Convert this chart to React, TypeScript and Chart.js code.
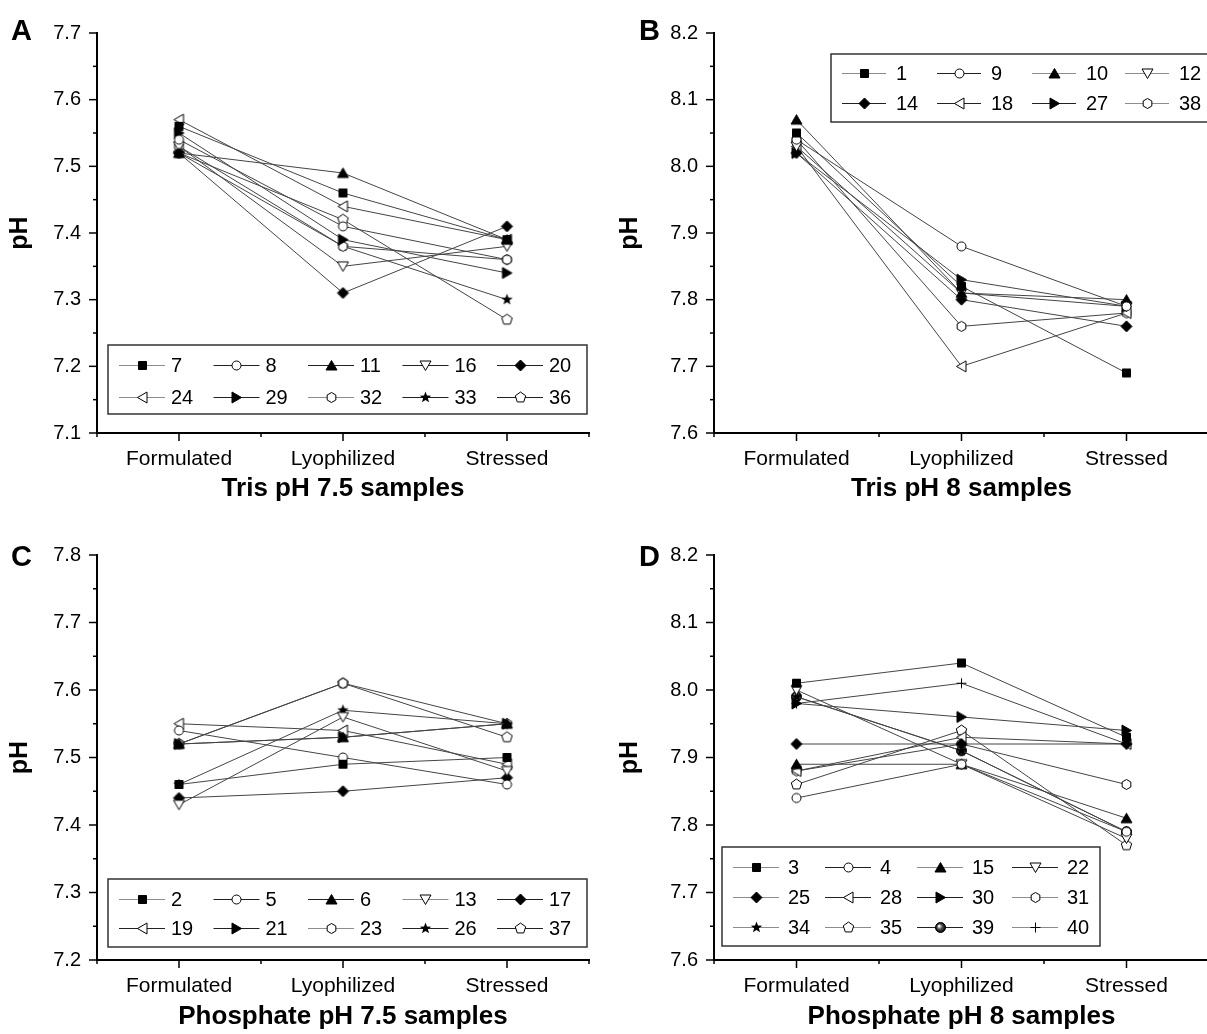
import React, { useEffect, useRef } from 'react';
import { Chart, registerables } from 'chart.js';

Chart.register(...registerables);
const FONT = "'Liberation Sans', Arial, Helvetica, sans-serif";
Chart.defaults.font.family = FONT;
Chart.defaults.color = '#000';

const CATEGORIES = ['Formulated', 'Lyophilized', 'Stressed'];

// Panel A — Tris pH 7.5
const A_SAMPLES = ['7', '8', '11', '16', '20', '24', '29', '32', '33', '36'];
const A_MARKERS = ['square', 'circle', 'triangle', 'tridown', 'diamond', 'trileft', 'triright', 'hexagon', 'star', 'pentagon'];
const A_TONES = ['g', 'k', 'k', 'k', 'k', 'g', 'k', 'g', 'k', 'k'];
const A_VALUES = [
  [7.56, 7.46, 7.39],
  [7.54, 7.41, 7.36],
  [7.52, 7.49, 7.39],
  [7.53, 7.35, 7.38],
  [7.52, 7.31, 7.41],
  [7.57, 7.44, 7.39],
  [7.55, 7.39, 7.34],
  [7.53, 7.38, 7.36],
  [7.52, 7.38, 7.30],
  [7.52, 7.42, 7.27],
];

// Panel B — Tris pH 8
const B_SAMPLES = ['1', '9', '10', '12', '14', '18', '27', '38'];
const B_MARKERS = ['square', 'circle', 'triangle', 'tridown', 'diamond', 'trileft', 'triright', 'hexagon'];
const B_TONES = ['g', 'k', 'g', 'g', 'k', 'k', 'k', 'g'];
const B_VALUES = [
  [8.05, 7.82, 7.69],
  [8.04, 7.88, 7.79],
  [8.07, 7.81, 7.80],
  [8.03, 7.81, 7.79],
  [8.02, 7.80, 7.76],
  [8.03, 7.70, 7.78],
  [8.02, 7.83, 7.79],
  [8.04, 7.76, 7.78],
];

// Panel C — Phosphate pH 7.5
const C_SAMPLES = ['2', '5', '6', '13', '17', '19', '21', '23', '26', '37'];
const C_MARKERS = ['square', 'circle', 'triangle', 'tridown', 'diamond', 'trileft', 'triright', 'hexagon', 'star', 'pentagon'];
const C_TONES = ['g', 'k', 'k', 'g', 'k', 'k', 'k', 'g', 'k', 'k'];
const C_VALUES = [
  [7.46, 7.49, 7.50],
  [7.54, 7.50, 7.46],
  [7.52, 7.53, 7.55],
  [7.43, 7.56, 7.48],
  [7.44, 7.45, 7.47],
  [7.55, 7.54, 7.49],
  [7.52, 7.53, 7.55],
  [7.52, 7.61, 7.55],
  [7.46, 7.57, 7.55],
  [7.52, 7.61, 7.53],
];

// Panel D — Phosphate pH 8
const D_SAMPLES = ['3', '4', '15', '22', '25', '28', '30', '31', '34', '35', '39', '40'];
const D_MARKERS = ['square', 'circle', 'triangle', 'tridown', 'diamond', 'trileft', 'triright', 'hexagon', 'star', 'pentagon', 'ball', 'plus'];
const D_TONES = ['g', 'k', 'g', 'k', 'g', 'k', 'k', 'g', 'g', 'g', 'k', 'g'];
const D_VALUES = [
  [8.01, 8.04, 7.93],
  [7.84, 7.89, 7.79],
  [7.89, 7.89, 7.81],
  [8.00, 7.89, 7.78],
  [7.92, 7.92, 7.92],
  [7.88, 7.93, 7.92],
  [7.98, 7.96, 7.94],
  [7.88, 7.92, 7.86],
  [7.99, 7.91, 7.79],
  [7.86, 7.94, 7.77],
  [7.99, 7.91, 7.79],
  [7.98, 8.01, 7.92],
];

const markerCache: Record<string, HTMLCanvasElement> = {};
function makeMarker(kind: string): HTMLCanvasElement {
  if (markerCache[kind]) return markerCache[kind];
  const size = 15;
  const c = document.createElement('canvas');
  c.width = size;
  c.height = size;
  const g = c.getContext('2d') as CanvasRenderingContext2D;
  const cx = size / 2;
  const cy = size / 2;
  g.lineWidth = 1;
  g.strokeStyle = '#000';
  const poly = (pts: number[][]) => {
    g.beginPath();
    pts.forEach(([x, y], i) => (i ? g.lineTo(x, y) : g.moveTo(x, y)));
    g.closePath();
  };
  const ngon = (n: number, r: number, start: number) => {
    const pts: number[][] = [];
    for (let k = 0; k < n; k++) {
      const a = start + (k * 2 * Math.PI) / n;
      pts.push([cx + r * Math.cos(a), cy + r * Math.sin(a)]);
    }
    poly(pts);
  };
  const solid = () => { g.fillStyle = '#000'; g.fill(); g.stroke(); };
  const open = () => { g.fillStyle = '#fff'; g.fill(); g.stroke(); };
  switch (kind) {
    case 'square':
      poly([[cx - 4, cy - 4], [cx + 4, cy - 4], [cx + 4, cy + 4], [cx - 4, cy + 4]]);
      solid();
      break;
    case 'circle':
      g.beginPath();
      g.arc(cx, cy, 4.5, 0, Math.PI * 2);
      open();
      break;
    case 'triangle':
      poly([[cx, cy - 5], [cx + 5.5, cy + 4.5], [cx - 5.5, cy + 4.5]]);
      solid();
      break;
    case 'tridown':
      poly([[cx - 5.5, cy - 4.5], [cx + 5.5, cy - 4.5], [cx, cy + 5]]);
      open();
      break;
    case 'diamond':
      poly([[cx, cy - 5.5], [cx + 5.5, cy], [cx, cy + 5.5], [cx - 5.5, cy]]);
      solid();
      break;
    case 'trileft':
      poly([[cx - 5, cy], [cx + 4.5, cy - 5.5], [cx + 4.5, cy + 5.5]]);
      open();
      break;
    case 'triright':
      poly([[cx + 5, cy], [cx - 4.5, cy - 5.5], [cx - 4.5, cy + 5.5]]);
      solid();
      break;
    case 'hexagon':
      ngon(6, 5, -Math.PI / 2);
      open();
      break;
    case 'pentagon':
      ngon(5, 5.5, -Math.PI / 2);
      open();
      break;
    case 'star': {
      const pts: number[][] = [];
      for (let k = 0; k < 10; k++) {
        const r = k % 2 === 0 ? 6 : 2.5;
        const a = -Math.PI / 2 + (k * Math.PI) / 5;
        pts.push([cx + r * Math.cos(a), cy + r * Math.sin(a)]);
      }
      poly(pts);
      g.fillStyle = '#000';
      g.fill();
      break;
    }
    case 'ball': {
      const grad = g.createRadialGradient(cx - 1.5, cy - 1.5, 0.5, cx, cy, 5);
      grad.addColorStop(0, '#fff');
      grad.addColorStop(0.45, '#555');
      grad.addColorStop(1, '#000');
      g.beginPath();
      g.arc(cx, cy, 5, 0, Math.PI * 2);
      g.fillStyle = grad;
      g.fill();
      g.stroke();
      break;
    }
    case 'plus':
      g.beginPath();
      g.moveTo(cx - 5, cy);
      g.lineTo(cx + 5, cy);
      g.moveTo(cx, cy - 5);
      g.lineTo(cx, cy + 5);
      g.stroke();
      break;
  }
  markerCache[kind] = c;
  return c;
}

const TONE: Record<string, string> = { g: '#8c8c8c', k: '#222' };

interface LegendCfg { x: number; y: number; w: number; h: number; rows: number[]; cols: number[]; lineLen: number; textOff: number }
interface PanelCfg {
  letter: string;
  left: number; top: number; w: number; h: number;
  area: { left: number; top: number; right: number; bottom: number };
  yMin: number; yMax: number;
  title: string;
  titleBottom: number;
  yTitlePad: number;
  letterX: number; letterY: number;
  samples: string[]; markers: string[]; tones: string[]; values: number[][];
  legend: LegendCfg;
}

const PANELS: PanelCfg[] = [
  {
    letter: 'A', left: 0, top: 0, w: 603, h: 517,
    area: { left: 97, top: 33, right: 597, bottom: 433 },
    yMin: 7.1, yMax: 7.7, title: 'Tris pH 7.5 samples', titleBottom: 13, yTitlePad: 5,
    letterX: 11, letterY: 40,
    samples: A_SAMPLES, markers: A_MARKERS, tones: A_TONES, values: A_VALUES,
    legend: { x: 108, y: 345, w: 479, h: 69, rows: [365, 397], cols: [119, 213.5, 308, 402.5, 497], lineLen: 46, textOff: 52 },
  },
  {
    letter: 'B', left: 603, top: 0, w: 620, h: 517,
    area: { left: 111, top: 33, right: 611, bottom: 433 },
    yMin: 7.6, yMax: 8.2, title: 'Tris pH 8 samples', titleBottom: 13, yTitlePad: 12,
    letterX: 36, letterY: 40,
    samples: B_SAMPLES, markers: B_MARKERS, tones: B_TONES, values: B_VALUES,
    legend: { x: 228, y: 54, w: 420, h: 68, rows: [73, 103], cols: [239, 334, 429, 522], lineLen: 44, textOff: 54 },
  },
  {
    letter: 'C', left: 0, top: 517, w: 603, h: 517,
    area: { left: 97, top: 38, right: 597, bottom: 443 },
    yMin: 7.2, yMax: 7.8, title: 'Phosphate pH 7.5 samples', titleBottom: 2, yTitlePad: 5,
    letterX: 11, letterY: 49,
    samples: C_SAMPLES, markers: C_MARKERS, tones: C_TONES, values: C_VALUES,
    legend: { x: 108, y: 362, w: 479, h: 68, rows: [382, 411], cols: [119, 213.5, 308, 402.5, 497], lineLen: 46, textOff: 52 },
  },
  {
    letter: 'D', left: 603, top: 517, w: 620, h: 517,
    area: { left: 111, top: 38, right: 611, bottom: 443 },
    yMin: 7.6, yMax: 8.2, title: 'Phosphate pH 8 samples', titleBottom: 2, yTitlePad: 12,
    letterX: 36, letterY: 49,
    samples: D_SAMPLES, markers: D_MARKERS, tones: D_TONES, values: D_VALUES,
    legend: { x: 119, y: 330, w: 378, h: 99, rows: [350, 380, 410], cols: [130, 222, 314, 409], lineLen: 46, textOff: 55 },
  },
];

function decorPlugin(p: PanelCfg) {
  return {
    id: 'decor' + p.letter,
    afterDraw(chart: any) {
      const ctx: CanvasRenderingContext2D = chart.ctx;
      const xs = chart.scales.x;
      const ys = chart.scales.y;
      ctx.save();
      ctx.strokeStyle = '#000';
      ctx.lineWidth = 1.5;
      ys.ticks.forEach((t: any) => {
        const n = Math.round(t.value * 100);
        const len = n % 10 === 0 ? 8 : 4;
        const y = ys.getPixelForValue(t.value);
        ctx.beginPath();
        ctx.moveTo(ys.right - len, y);
        ctx.lineTo(ys.right, y);
        ctx.stroke();
      });
      xs.ticks.forEach((t: any) => {
        const i = Math.round(t.value * 2);
        const len = i % 2 === 0 ? 8 : 4;
        const x = xs.getPixelForValue(t.value);
        ctx.beginPath();
        ctx.moveTo(x, xs.top);
        ctx.lineTo(x, xs.top + len);
        ctx.stroke();
      });
      // legend
      const L = p.legend;
      ctx.fillStyle = '#fff';
      ctx.fillRect(L.x, L.y, L.w, L.h);
      ctx.strokeStyle = '#333';
      ctx.lineWidth = 1.5;
      ctx.strokeRect(L.x, L.y, L.w, L.h);
      ctx.font = '20px ' + FONT;
      ctx.textBaseline = 'middle';
      ctx.textAlign = 'left';
      p.samples.forEach((s, i) => {
        const r = Math.floor(i / L.cols.length);
        const c = i % L.cols.length;
        const x0 = L.cols[c];
        const y0 = L.rows[r];
        ctx.strokeStyle = TONE[p.tones[i]];
        ctx.lineWidth = 1;
        ctx.beginPath();
        ctx.moveTo(x0, Math.round(y0) + 0.5);
        ctx.lineTo(x0 + L.lineLen, Math.round(y0) + 0.5);
        ctx.stroke();
        const m = makeMarker(p.markers[i]);
        ctx.drawImage(m, Math.round(x0 + L.lineLen / 2 - m.width / 2), Math.round(y0 - m.height / 2));
        ctx.fillStyle = '#000';
        ctx.fillText(s, x0 + L.textOff, y0 + 1);
      });
      // panel letter
      ctx.font = 'bold 29px ' + FONT;
      ctx.textBaseline = 'alphabetic';
      ctx.fillStyle = '#000';
      ctx.fillText(p.letter, p.letterX, p.letterY);
      ctx.restore();
    },
  };
}

function Panel({ p }: { p: PanelCfg }) {
  const ref = useRef<HTMLCanvasElement>(null);
  useEffect(() => {
    if (!ref.current) return;
    const datasets = p.samples.map((s, i) => ({
      label: s,
      data: p.values[i].map((v, k) => ({ x: k + 1, y: v })),
      borderColor: '#444',
      borderWidth: 1,
      backgroundColor: '#000',
      pointStyle: makeMarker(p.markers[i]) as any,
      pointRadius: 5,
      tension: 0,
      fill: false,
    }));
    const chart = new Chart(ref.current, {
      type: 'line',
      data: { datasets },
      plugins: [decorPlugin(p)],
      options: {
        animation: false,
        responsive: false,
        devicePixelRatio: 1,
        layout: { padding: { left: 0, top: p.area.top, right: p.w - p.area.right, bottom: 0 } },
        plugins: { legend: { display: false }, tooltip: { enabled: false } },
        scales: {
          x: {
            type: 'linear',
            min: 0.5,
            max: 3.5,
            afterFit: (s: any) => { s.height = p.h - p.area.bottom; },
            afterBuildTicks: (s: any) => {
              s.ticks = [0.5, 1, 1.5, 2, 2.5, 3, 3.5].map((v) => ({ value: v }));
            },
            ticks: {
              autoSkip: false,
              maxRotation: 0,
              padding: 14,
              font: { size: 21 },
              color: '#000',
              callback: (v: any) => {
                const i = Math.round(Number(v) * 2);
                return i % 2 === 0 ? CATEGORIES[i / 2 - 1] ?? '' : '';
              },
            },
            grid: { display: true, drawOnChartArea: false, drawTicks: false },
            border: { display: true, color: '#000', width: 2 },
            title: {
              display: true,
              text: p.title,
              font: { size: 26, weight: 'bold' },
              color: '#000',
              padding: { top: 0, bottom: p.titleBottom },
            },
          },
          y: {
            type: 'linear',
            min: p.yMin,
            max: p.yMax,
            afterFit: (s: any) => { s.width = p.area.left; },
            ticks: {
              autoSkip: false,
              stepSize: 0.05,
              padding: 16,
              font: { size: 20 },
              color: '#000',
              callback: (v: any) => {
                const n = Math.round(Number(v) * 100);
                return n % 10 === 0 ? (n / 100).toFixed(1) : '';
              },
            },
            grid: { display: true, drawOnChartArea: false, drawTicks: false },
            border: { display: true, color: '#000', width: 2 },
            title: {
              display: true,
              text: 'pH',
              font: { size: 25, weight: 'bold' },
              color: '#000',
              padding: { top: p.yTitlePad, bottom: 0 },
            },
          },
        },
      } as any,
    });
    return () => chart.destroy();
  }, [p]);
  return (
    <canvas
      ref={ref}
      width={p.w}
      height={p.h}
      style={{ position: 'absolute', left: p.left, top: p.top, width: p.w, height: p.h }}
    />
  );
}

export default function App() {
  return (
    <div style={{ position: 'absolute', left: 0, top: 0, width: 1207, height: 1034, overflow: 'hidden', background: '#fff' }}>
      {PANELS.map((p) => (
        <Panel key={p.letter} p={p} />
      ))}
    </div>
  );
}
